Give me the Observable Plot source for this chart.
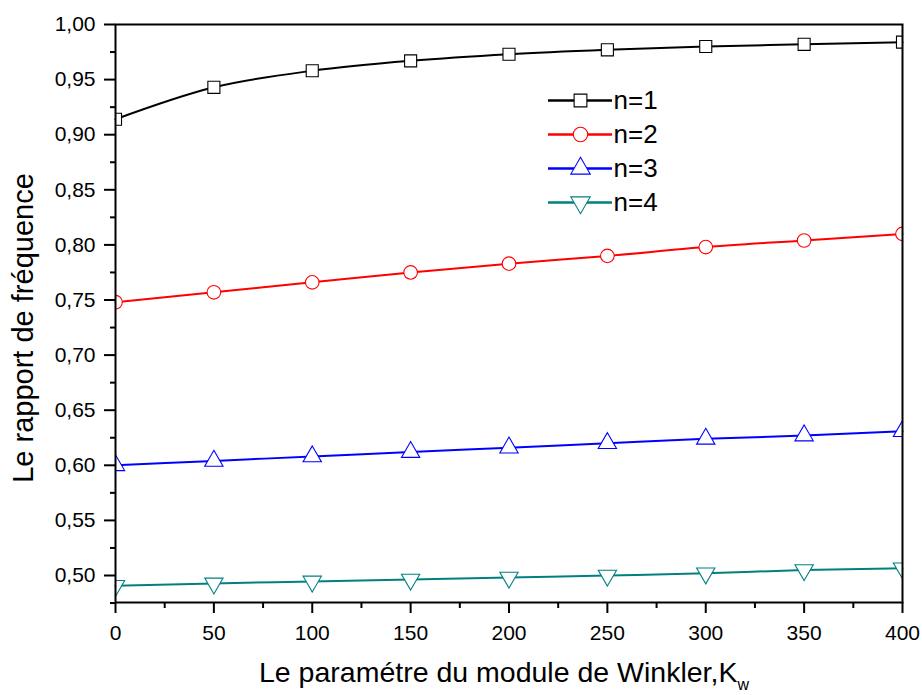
<!DOCTYPE html>
<html>
<head>
<meta charset="utf-8">
<script src="https://cdn.jsdelivr.net/npm/d3@7"></script>
<script src="https://cdn.jsdelivr.net/npm/@observablehq/plot@0.6"></script>
<style>
  html, body { margin: 0; padding: 0; background: #fff; }
  #wrap { position: relative; width: 922px; height: 695px; font-family: "Liberation Sans", Arial, sans-serif; }
  #legend { position: absolute; left: 540px; top: 82px; }
</style>
</head>
<body>
<div id="wrap"><div id="chart"></div><div id="legend"></div></div>
<script>
const kw = [0, 50, 100, 150, 200, 250, 300, 350, 400];
const n1 = [0.914, 0.943, 0.958, 0.967, 0.973, 0.977, 0.980, 0.982, 0.984];
const n2 = [0.748, 0.757, 0.766, 0.775, 0.783, 0.790, 0.798, 0.804, 0.810];
const n3 = [0.600, 0.604, 0.608, 0.612, 0.616, 0.620, 0.624, 0.627, 0.631];
const n4 = [0.4906, 0.4928, 0.4946, 0.4964, 0.4982, 0.5000, 0.5020, 0.5050, 0.5066];
const seriesNames = ["n=1", "n=2", "n=3", "n=4"];
const seriesColors = ["#000000", "#ff0000", "#0000ff", "#008080"];
const yTicks = [0.50, 0.55, 0.60, 0.65, 0.70, 0.75, 0.80, 0.85, 0.90, 0.95, 1.00];
const yMinor = [0.475, 0.525, 0.575, 0.625, 0.675, 0.725, 0.775, 0.825, 0.875, 0.925, 0.975];
const xTicks = [0, 50, 100, 150, 200, 250, 300, 350, 400];
const xMinor = [25, 75, 125, 175, 225, 275, 325, 375];

const triangleDown = {
  draw(context, size) {
    const y = -Math.sqrt(size / (Math.sqrt(3) * 3));
    context.moveTo(0, -y * 2);
    context.lineTo(-Math.sqrt(3) * y, y);
    context.lineTo(Math.sqrt(3) * y, y);
    context.closePath();
  }
};
const seriesSymbols = ["square", "circle", "triangle", triangleDown];

const allValues = [n1, n2, n3, n4];
const data = [];
seriesNames.forEach((s, i) => kw.forEach((k, j) => data.push({kw: k, value: allValues[i][j], series: s})));

const fmt = d => d3.format(".2f")(d).replace(".", ",");
const font = "Liberation Sans, Arial, sans-serif";

const chart = Plot.plot({
  width: 922,
  height: 695,
  marginLeft: 115,
  marginTop: 24,
  marginRight: 20,
  marginBottom: 93,
  style: {fontFamily: font, fontSize: "21px", color: "#000", background: "#fff"},
  x: {domain: [0, 400]},
  y: {domain: [0.4755, 1.0]},
  color: {domain: seriesNames, range: seriesColors},
  symbol: {domain: seriesNames, range: seriesSymbols},
  marks: [
    Plot.line(data, {x: "kw", y: "value", z: "series", stroke: "series", strokeWidth: 2, curve: "monotone-x"}),
    Plot.dot(data, {x: "kw", y: "value", stroke: "series", symbol: "series", fill: "white", r: 6.8, strokeWidth: 1.1, clip: true}),
    Plot.axisY(yTicks, {tickSize: 11, tickPadding: 9, tickFormat: fmt, strokeWidth: 2, label: null, fontSize: 21}),
    Plot.axisY(yMinor, {tickSize: 5, tickFormat: () => "", strokeWidth: 2, label: null}),
    Plot.axisX(xTicks, {tickSize: 11, tickPadding: 12, tickFormat: d => String(d), strokeWidth: 2, label: null, fontSize: 21}),
    Plot.axisX(xMinor, {tickSize: 6, tickFormat: () => "", strokeWidth: 2, label: null}),
    Plot.frame({stroke: "#000", strokeWidth: 2})
  ]
});
document.getElementById("chart").appendChild(chart);

// axis titles
const svg = d3.select(chart);
const xt = svg.append("text")
  .attr("x", 504).attr("y", 682)
  .attr("text-anchor", "middle")
  .attr("font-family", font).attr("font-size", 28.5).attr("fill", "#000");
xt.append("tspan").text("Le paramétre du module de Winkler,K");
xt.append("tspan").attr("dy", 8).attr("font-size", 16).text("w");
svg.append("text")
  .attr("transform", "translate(33,328) rotate(-90)")
  .attr("text-anchor", "middle")
  .attr("font-family", font).attr("font-size", 29).attr("fill", "#000")
  .text("Le rapport de fréquence");

// legend
const legend = Plot.plot({
  width: 140,
  height: 140,
  margin: 0,
  style: {fontFamily: font, background: "transparent"},
  x: {domain: [0, 1], range: [8, 72], axis: null},
  y: {type: "point", domain: seriesNames, range: [17.3, 121.3], padding: 0, axis: null},
  color: {domain: seriesNames, range: seriesColors},
  symbol: {domain: seriesNames, range: seriesSymbols},
  marks: [
    Plot.ruleY(seriesNames, {y: d => d, x1: 0, x2: 1, stroke: d => d, strokeWidth: 2.5}),
    Plot.dot(seriesNames, {x: 0.5, y: d => d, stroke: d => d, symbol: d => d, fill: "white", r: 7.2, strokeWidth: 1.1}),
    Plot.text(seriesNames, {x: 1, y: d => d, text: d => d, textAnchor: "start", dx: 1, fontSize: 26, fill: "#000"})
  ]
});
document.getElementById("legend").appendChild(legend);
</script>
</body>
</html>
